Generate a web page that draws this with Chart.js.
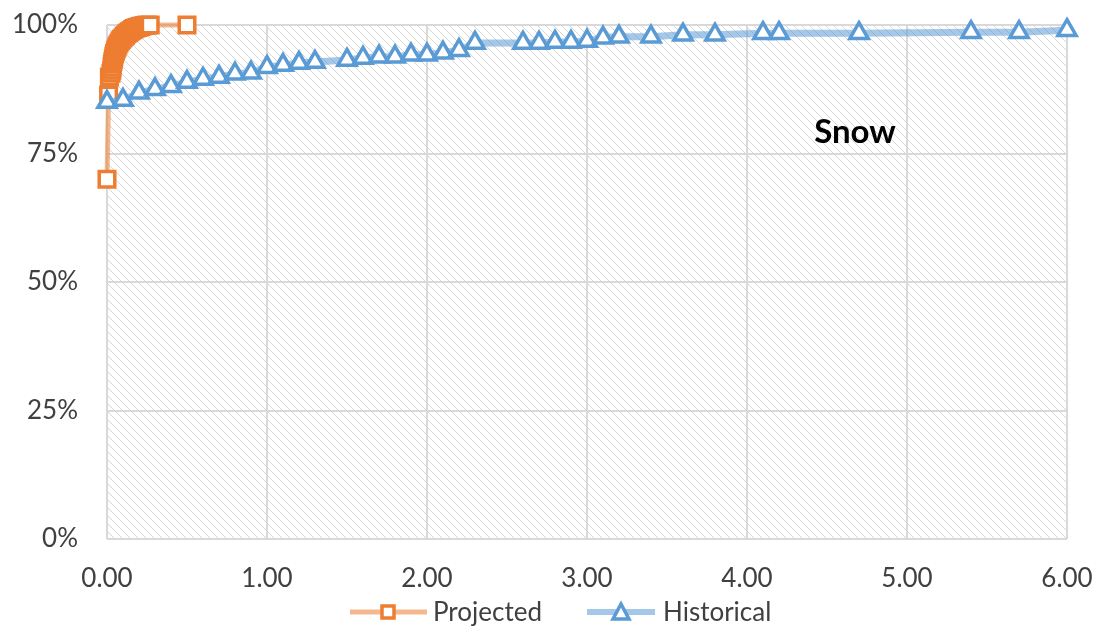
<!DOCTYPE html>
<html>
<head>
<meta charset="utf-8">
<script src="https://cdn.jsdelivr.net/npm/chart.js@4.4.0/dist/chart.umd.min.js"></script>
<style>
  body { margin: 0; background: #ffffff; }
  #wrap { width: 1102px; height: 634px; position: relative; }
</style>
</head>
<body>
<div id="wrap"><canvas id="snowChart"></canvas></div>
<script>
// Data
const projectedX = [0.00, 0.01, 0.015, 0.025, 0.03, 0.032, 0.034, 0.037, 0.04, 0.043, 0.047, 0.052, 0.057, 0.062, 0.068, 0.075, 0.082, 0.09, 0.10, 0.108, 0.116, 0.124, 0.132, 0.141, 0.15, 0.16, 0.17, 0.18, 0.19, 0.2, 0.21, 0.22, 0.235, 0.25, 0.27, 0.50];
const projectedY = [70, 86.4, 89.9, 90.6, 91.2, 91.8, 92.4, 92.9, 93.4, 93.9, 94.4, 94.9, 95.3, 95.7, 96.1, 96.5, 96.9, 97.2, 97.5, 97.8, 98.0, 98.3, 98.5, 98.7, 98.9, 99.1, 99.3, 99.4, 99.5, 99.6, 99.7, 99.8, 99.9, 100, 100, 100];

const historicalX = [0, 0.1, 0.2, 0.3, 0.4, 0.5, 0.6, 0.7, 0.8, 0.9, 1.0, 1.1, 1.2, 1.3, 1.5, 1.6, 1.7, 1.8, 1.9, 2.0, 2.1, 2.2, 2.3, 2.6, 2.7, 2.8, 2.9, 3.0, 3.1, 3.2, 3.4, 3.6, 3.8, 4.1, 4.2, 4.7, 5.4, 5.7, 6.0];
const historicalY = [85.0, 85.4, 86.8, 87.5, 88.1, 88.9, 89.5, 89.9, 90.5, 90.7, 91.8, 92.2, 92.6, 92.8, 93.2, 93.6, 93.8, 93.8, 94.2, 94.2, 94.6, 95.1, 96.5, 96.5, 96.5, 96.7, 96.7, 96.9, 97.5, 97.7, 97.7, 98.1, 98.1, 98.4, 98.4, 98.4, 98.6, 98.6, 99.0];

const xTicks = [0, 1, 2, 3, 4, 5, 6];
const yTicks = [0, 25, 50, 75, 100];
const seriesNames = ['Projected', 'Historical'];
const chartLabel = 'Snow';

const orange = '#ED7D31';
const orangeLine = 'rgba(237, 125, 49, 0.55)';
const blue = '#5B9BD5';
const blueLine = 'rgba(91, 155, 213, 0.55)';
const textColor = '#404040';
const fontFamily = 'Lato, "Open Sans", sans-serif';

function toPoints(xs, ys) {
    return xs.map((x, i) => ({ x: x, y: ys[i] }));
}

// diagonal hatch used as plot area background
function makeHatch() {
    const c = document.createElement('canvas');
    c.width = 8;
    c.height = 8;
    const g = c.getContext('2d');
    g.strokeStyle = '#d7d7d7';
    g.lineWidth = 1;
    g.beginPath();
    g.moveTo(-2, -2); g.lineTo(10, 10);
    g.moveTo(-2, 6); g.lineTo(2, 10);
    g.moveTo(6, -2); g.lineTo(10, 2);
    g.stroke();
    return g.createPattern(c, 'repeat');
}

const hatchPlugin = {
    id: 'hatch',
    beforeDraw(chart) {
        const { ctx, chartArea } = chart;
        ctx.save();
        ctx.fillStyle = makeHatch();
        ctx.fillRect(chartArea.left, chartArea.top, chartArea.right - chartArea.left, chartArea.bottom - chartArea.top);
        ctx.restore();
    }
};

// title inside the plot + legend with line and marker like the original
const extrasPlugin = {
    id: 'extras',
    afterDraw(chart) {
        const ctx = chart.ctx;
        const xs = chart.scales.x;
        const ys = chart.scales.y;
        ctx.save();
        ctx.fillStyle = '#000000';
        ctx.font = 'bold 33px ' + fontFamily;
        ctx.textAlign = 'center';
        ctx.textBaseline = 'middle';
        ctx.fillText(chartLabel, xs.getPixelForValue(4.675), ys.getPixelForValue(79.2));

        // legend
        const ly = 612;
        ctx.lineCap = 'butt';
        ctx.strokeStyle = orangeLine;
        ctx.lineWidth = 5;
        ctx.beginPath(); ctx.moveTo(350, ly); ctx.lineTo(427, ly); ctx.stroke();
        ctx.fillStyle = '#ffffff';
        ctx.strokeStyle = orange;
        ctx.lineWidth = 3.5;
        ctx.fillRect(382, ly - 6, 12, 12);
        ctx.strokeRect(382, ly - 6, 12, 12);

        ctx.strokeStyle = blueLine;
        ctx.lineWidth = 6;
        ctx.beginPath(); ctx.moveTo(587, ly); ctx.lineTo(655, ly); ctx.stroke();
        ctx.strokeStyle = blue;
        ctx.lineWidth = 3.5;
        ctx.beginPath();
        ctx.moveTo(621, ly - 8); ctx.lineTo(629, ly + 7); ctx.lineTo(613, ly + 7); ctx.closePath();
        ctx.fill(); ctx.stroke();

        ctx.fillStyle = textColor;
        ctx.font = '26px ' + fontFamily;
        ctx.textAlign = 'left';
        ctx.fillText(seriesNames[0], 433, ly + 1);
        ctx.fillText(seriesNames[1], 663, ly + 1);
        ctx.restore();
    }
};

const ctx = document.getElementById('snowChart').getContext('2d');

new Chart(ctx, {
    type: 'scatter',
    data: {
        datasets: [{
            label: seriesNames[0],
            data: toPoints(projectedX, projectedY),
            showLine: true,
            borderColor: orangeLine,
            borderWidth: 5,
            pointStyle: 'rect',
            pointRadius: 11,
            pointBorderWidth: 3.5,
            pointBorderColor: orange,
            pointBackgroundColor: '#ffffff',
            tension: 0,
            clip: false,
            order: 1
        }, {
            label: seriesNames[1],
            data: toPoints(historicalX, historicalY),
            showLine: true,
            borderColor: blueLine,
            borderWidth: 7,
            pointStyle: 'triangle',
            pointRadius: 10.5,
            pointBorderWidth: 3.5,
            pointBorderColor: blue,
            pointBackgroundColor: '#ffffff',
            tension: 0,
            clip: false,
            order: 0
        }]
    },
    options: {
        responsive: true,
        maintainAspectRatio: false,
        animation: false,
        layout: { padding: { top: 25, right: 35, left: 0, bottom: 0 } },
        plugins: {
            legend: { display: false },
            tooltip: { enabled: false }
        },
        scales: {
            x: {
                type: 'linear',
                min: 0,
                max: 6,
                afterFit(scale) {
                    scale.height = 95;
                    scale.paddingLeft = 0;
                    scale.paddingRight = 0;
                },
                afterBuildTicks(scale) { scale.ticks = xTicks.map(v => ({ value: v })); },
                ticks: {
                    color: textColor,
                    font: { family: fontFamily, size: 26 },
                    padding: 24,
                    autoSkip: false,
                    maxRotation: 0,
                    callback: v => v.toFixed(2)
                },
                grid: { color: '#d9d9d9', lineWidth: 2, drawTicks: false },
                border: { display: false }
            },
            y: {
                min: 0,
                max: 100,
                afterFit(scale) {
                    scale.width = 107;
                    scale.paddingTop = 0;
                    scale.paddingBottom = 0;
                },
                afterBuildTicks(scale) { scale.ticks = yTicks.map(v => ({ value: v })); },
                ticks: {
                    color: textColor,
                    font: { family: fontFamily, size: 26 },
                    padding: 29,
                    callback: v => v + '%'
                },
                grid: { color: '#d9d9d9', lineWidth: 2, drawTicks: false },
                border: { display: false }
            }
        }
    },
    plugins: [hatchPlugin, extrasPlugin]
});
</script>
</body>
</html>
